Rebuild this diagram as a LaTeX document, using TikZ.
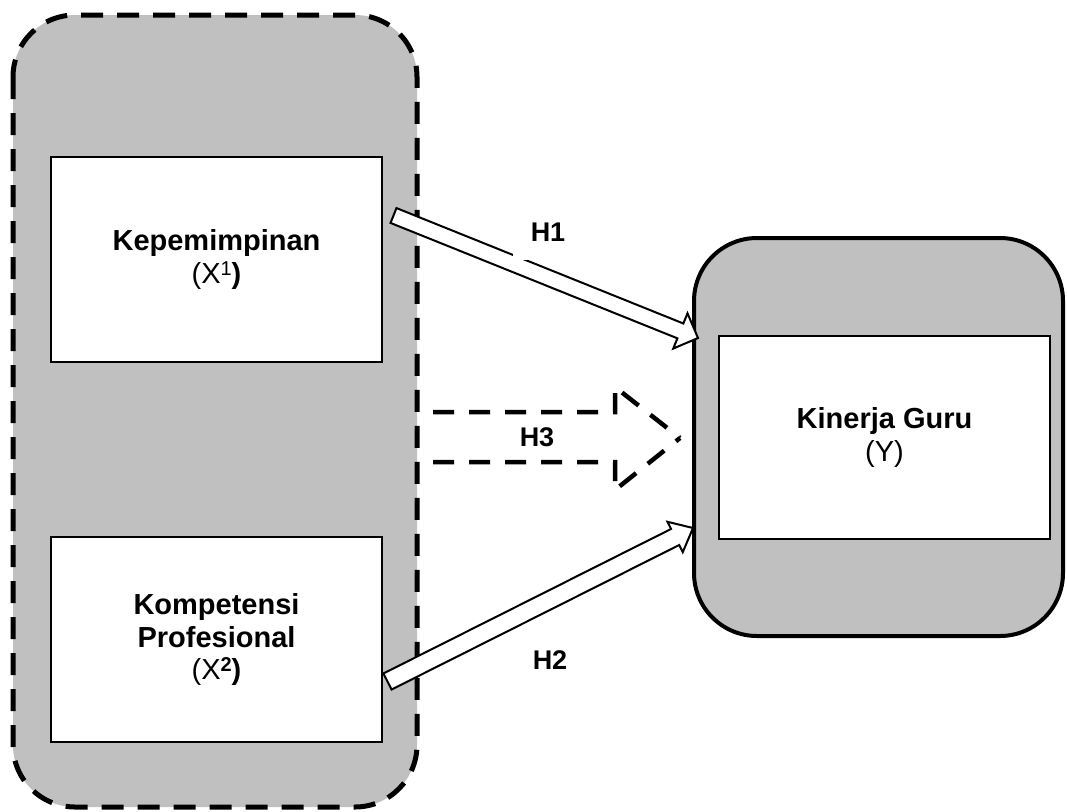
\documentclass[tikz,border=0pt]{standalone}
\usepackage{fontspec}
\setmainfont{Liberation Sans}
\usetikzlibrary{calc}
\definecolor{panelgray}{RGB}{192,192,192}
\newcommand\supnum[1]{\raisebox{8pt}{\fontsize{20}{20}\selectfont #1}}
\tikzset{
  grouppanel/.style={fill=panelgray, draw=black, line width=5pt, dash pattern=on 22pt off 14pt, rounded corners=62pt},
  targetpanel/.style={fill=panelgray, draw=black, line width=4pt, rounded corners=63pt},
  varbox/.style={draw=black, fill=white, line width=2pt, align=center, inner sep=0pt,
     font=\fontsize{29}{32.5}\selectfont},
  hyplabel/.style={font=\fontsize{27}{30}\selectfont\bfseries, inner sep=0pt},
  blockarrowstyle/.style={draw=black, fill=white, line width=2pt, line join=miter},
  dasharrowstyle/.style={draw=black, line width=4.5pt, dash pattern=on 21pt off 15pt, dash phase=21pt}
}
% tail, tip, shaft half width, head half width, head length
\newcommand\blkarrow[5]{%
  \path[blockarrowstyle]
    ($(#1)!#3!90:(#2)$) --
    ($($(#2)!#5!(#1)$)!#3!-90:(#1)$) --
    ($($(#2)!#5!(#1)$)!#4!-90:(#1)$) --
    (#2) --
    ($($(#2)!#5!(#1)$)!#4!90:(#1)$) --
    ($($(#2)!#5!(#1)$)!#3!90:(#1)$) --
    ($(#1)!#3!-90:(#2)$) -- cycle;}
\begin{document}
\begin{tikzpicture}[x=1pt,y=-1pt]
\useasboundingbox (0,0) rectangle (1067,811);
% panels
\draw[grouppanel] (13,15) rectangle (417,807);
\draw[targetpanel] (694,238) rectangle (1063,636);
% variable boxes
\node[varbox, minimum width=331pt, minimum height=205pt] (kep) at (216.5,259.5)
  {\textbf{Kepemimpinan}\\(X\supnum{1}\textbf{)}};
\node[varbox, minimum width=331pt, minimum height=205pt] (kom) at (216.5,639.5)
  {\textbf{Kompetensi}\\\textbf{Profesional}\\(X\supnum{\textbf{2}}\textbf{)}};
\node[varbox, minimum width=331pt, minimum height=203pt] (kin) at (884.5,437.5)
  {\textbf{Kinerja Guru}\\(Y)};
% arrow end points
\coordinate (h1s) at (393.5,215.5);
\coordinate (h1e) at (698,338);
\coordinate (h2s) at (387.5,681.5);
\coordinate (h2e) at (693,528);
\blkarrow{h1s}{h1e}{8pt}{19pt}{19pt}
\blkarrow{h2s}{h2e}{9pt}{17pt}{20pt}
% H3 dashed block arrow
\coordinate (h3a) at (418,412);
\coordinate (h3b) at (615,412);
\coordinate (h3c) at (615,387);
\coordinate (h3tip) at (680,438);
\coordinate (h3d) at (615,490);
\coordinate (h3e) at (615,462);
\coordinate (h3f) at (418,462);
\draw[dasharrowstyle] (h3a) -- (h3b) -- (h3c) -- (h3tip);
\draw[dasharrowstyle] (h3f) -- (h3e) -- (h3d) -- (h3tip);
% labels
\node[hyplabel, fill=white, minimum width=70pt, minimum height=56pt] (lh1) at (548,232) {H1};
\node[hyplabel] (lh2) at (550,660) {H2};
\node[hyplabel] (lh3) at (537,437) {H3};
\end{tikzpicture}
\end{document}
